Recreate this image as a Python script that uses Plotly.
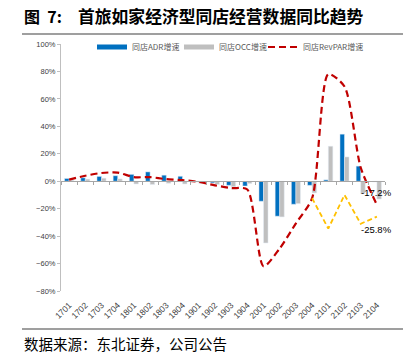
import plotly.graph_objects as go

cats = ["1701","1702","1703","1704","1801","1802","1803","1804","1901","1902",
        "1903","1904","2001","2002","2003","2004","2101","2102","2103","2104"]
adr = [2.0, 2.5, 3.5, 4.0, 5.0, 6.8, 4.4, 3.6, -0.5, -1.2, -3.0, -3.5,
       -14.6, -25.5, -16.8, -3.0, 1.0, 34.3, 11.0, -0.5]
occ = [0.8, 1.5, 2.2, 1.7, -2.0, -2.4, -1.5, -2.0, -1.5, -2.4, -4.0, -1.7,
       -45.0, -26.0, -16.3, -8.5, 25.5, 17.7, -9.0, -13.0]
revpar = [1.2, 4.0, 6.0, 6.3, 3.0, 3.0, 1.5, 0.8, -0.5, -3.0, -5.0, -6.0,
          -62.0, -49.0, -30.7, -12.4, 78.0, 69.0, 10.0, -17.2]
vs2019 = [None]*15 + [-12.4, -34.5, -10.0, -31.0, -25.8]

names = ["同店ADR增速", "同店OCC增速", "同店RevPAR增速"]
BLUE, GRAY, RED, YEL = "#0070C0", "#BFBFBF", "#C00000", "#FFC000"
TICKF = dict(family="Liberation Sans, Arial", size=7.5, color="#404040")
XTICKF = dict(family="Liberation Sans, Arial", size=8.5, color="#404040")
CJK = "Noto Sans CJK SC"
LEGF = dict(family=CJK, size=8, color="#595959")

fig = go.Figure()
fig.add_bar(x=cats, y=adr, marker_color=BLUE, name=names[0], showlegend=False)
fig.add_bar(x=cats, y=occ, marker_color=GRAY, name=names[1], showlegend=False)
fig.add_scatter(x=cats, y=revpar, mode="lines",
                line=dict(color=RED, width=2.2, dash="7px,4px", shape="spline", smoothing=0.7),
                name=names[2], showlegend=False, cliponaxis=False)
fig.add_scatter(x=cats, y=vs2019, mode="lines", line=dict(color=YEL, width=1.8, dash="5px,3px"),
                showlegend=False, connectgaps=False, cliponaxis=False)
# legend entries
fig.add_scatter(x=[None], y=[None], mode="lines", line=dict(color=BLUE, width=5), name=names[0], legend="legend")
fig.add_scatter(x=[None], y=[None], mode="lines", line=dict(color=GRAY, width=5), name=names[1], legend="legend2")
fig.add_scatter(x=[None], y=[None], mode="lines", line=dict(color=RED, width=2.2, dash="7px,4px"), name=names[2], legend="legend3")
# zero axis with tick marks
fig.add_scatter(x=cats, y=[None]*len(cats), xaxis="x2", mode="lines", showlegend=False, hoverinfo="skip")

def leg(xpx):
    return dict(orientation="h", x=(xpx-61)/324, y=(291-47)/247, xanchor="left", yanchor="middle",
                font=LEGF, itemwidth=30, bgcolor="rgba(0,0,0,0)")

last = len(cats) - 1
fig.update_layout(
    width=416, height=354,
    margin=dict(l=61, r=31, t=44, b=63),
    paper_bgcolor="white", plot_bgcolor="white",
    barmode="group", bargap=0.44, bargroupgap=0,
    showlegend=True,
    legend=leg(92), legend2=leg(179), legend3=leg(263),
    xaxis=dict(type="category", categoryorder="array", categoryarray=cats, range=[-0.5, 19.5],
               showline=False, ticks="outside", ticklen=5, tickcolor="rgba(0,0,0,0)",
               tickangle=-45, tickfont=XTICKF, showgrid=False, zeroline=False, automargin=False),
    xaxis2=dict(type="category", categoryorder="array", categoryarray=cats, range=[-0.5, 19.5],
                overlaying="x", anchor="free", position=80/180, showline=True, linecolor="#A6A6A6",
                linewidth=1, ticks="outside", tickson="boundaries", ticklen=3, tickcolor="#A6A6A6",
                showticklabels=False, showgrid=False, zeroline=False),
    yaxis=dict(range=[-80, 100], dtick=20, ticksuffix="%", tickfont=TICKF, showgrid=False,
               zeroline=False, showline=True, linecolor="#BFBFBF", ticks="outside", ticklen=3,
               tickcolor="#BFBFBF"),
    shapes=[
        dict(type="line", xref="paper", yref="paper", x0=(22-61)/324, x1=(403-61)/324,
             y0=(291-34)/247, y1=(291-34)/247, line=dict(color="#7F7F7F", width=1.5)),
        dict(type="line", xref="paper", yref="paper", x0=(22-61)/324, x1=(403-61)/324,
             y0=(291-329)/247, y1=(291-329)/247, line=dict(color="#7F7F7F", width=1.5)),
    ],
    annotations=[
        dict(text="<b>图  7:</b>", xref="paper", yref="paper",
             x=(22-61)/324, y=(291-16)/247, xanchor="left", yanchor="middle", showarrow=False,
             font=dict(family=CJK, size=16, color="#000000")),
        dict(text="<b>首旅如家经济型同店经营数据同比趋势</b>", xref="paper", yref="paper",
             x=(76-61)/324, y=(291-16)/247, xanchor="left", yanchor="middle", showarrow=False,
             font=dict(family=CJK, size=16.8, color="#000000")),
        dict(text="数据来源：东北证券，公司公告", xref="paper", yref="paper",
             x=(22-61)/324, y=(291-343)/247, xanchor="left", yanchor="middle", showarrow=False,
             font=dict(family=CJK, size=14.5, color="#000000")),
        dict(text=f"{revpar[last]:.1f}%", x=last, y=revpar[last], xref="x", yref="y",
             showarrow=False, yshift=12, xshift=0,
             font=dict(family="Liberation Sans, Arial", size=9.5, color="#000000")),
        dict(text=f"{vs2019[last]:.1f}%", x=last, y=vs2019[last], xref="x", yref="y",
             showarrow=False, yshift=-13, xshift=0,
             font=dict(family="Liberation Sans, Arial", size=9.5, color="#000000")),
    ],
)
fig.write_html("out.html")
